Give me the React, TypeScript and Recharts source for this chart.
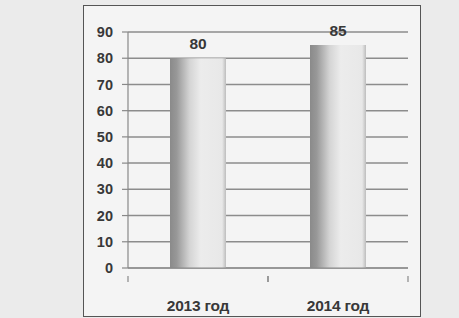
import React from 'react';
import { BarChart, Bar, XAxis, YAxis, CartesianGrid, LabelList } from 'recharts';

const categories = ['2013 год', '2014 год'];
const values = [80, 85];
const yTicks = [0, 10, 20, 30, 40, 50, 60, 70, 80, 90];

const data = categories.map((c, i) => ({ name: c, value: values[i] }));

const FONT = '"Liberation Sans", Arial, sans-serif';
const TEXT = '#383838';

const XTick = (props: any) => {
  const { x, y, payload } = props;
  const off = payload.offset || 0;
  return (
    <g>
      <line x1={x - off} y1={y} x2={x - off} y2={y + 6} stroke="#888" strokeWidth={1.2} />
      <line x1={x + off} y1={y} x2={x + off} y2={y + 6} stroke="#888" strokeWidth={1.2} />
      <text x={x} y={y + 35} textAnchor="middle" fontFamily={FONT} fontWeight="bold" fontSize={15.5} fill={TEXT} letterSpacing={-0.2}>
        {payload.value}
      </text>
    </g>
  );
};

export default function App() {
  return (
    <div style={{ position: 'absolute', left: 0, top: 0, width: 459, height: 318, background: '#ebebeb', overflow: 'hidden' }}>
      <div style={{ position: 'absolute', left: 83, top: 5, width: 338, height: 312, border: '1px solid #555', background: '#f4f4f4', boxSizing: 'border-box' }} />
      <div style={{ position: 'absolute', left: 0, top: 0 }}>
        <BarChart width={459} height={318} data={data} margin={{ top: 32, right: 51, bottom: 0, left: 0 }} barCategoryGap="30%">
          <defs>
            <linearGradient id="cyl" x1="0" y1="0" x2="1" y2="0">
              <stop offset="0%" stopColor="#8a8a8a" />
              <stop offset="12%" stopColor="#989898" />
              <stop offset="35%" stopColor="#d4d4d4" />
              <stop offset="55%" stopColor="#ececec" />
              <stop offset="93%" stopColor="#e8e8e8" />
              <stop offset="100%" stopColor="#bdbdbd" />
            </linearGradient>
          </defs>
          <CartesianGrid vertical={false} stroke="#8c8c8c" strokeWidth={1.5} />
          <XAxis dataKey="name" axisLine={{ stroke: '#888', strokeWidth: 1.2 }} tickLine={false} tick={<XTick />} interval={0} height={50} />
          <YAxis
            width={128}
            domain={[0, 90]}
            ticks={yTicks}
            interval={0}
            axisLine={{ stroke: '#888', strokeWidth: 1.2 }}
            tickLine={{ stroke: '#888', strokeWidth: 1.2 }}
            tickSize={6}
            tickMargin={9}
            tick={{ fontFamily: FONT, fontWeight: 'bold', fontSize: 14.5, fill: TEXT }}
          />
          <Bar dataKey="value" fill="url(#cyl)" isAnimationActive={false}>
            <LabelList dataKey="value" position="top" offset={9} style={{ fontFamily: FONT, fontWeight: 'bold', fontSize: 15.5, fill: TEXT }} />
          </Bar>
        </BarChart>
      </div>
    </div>
  );
}
